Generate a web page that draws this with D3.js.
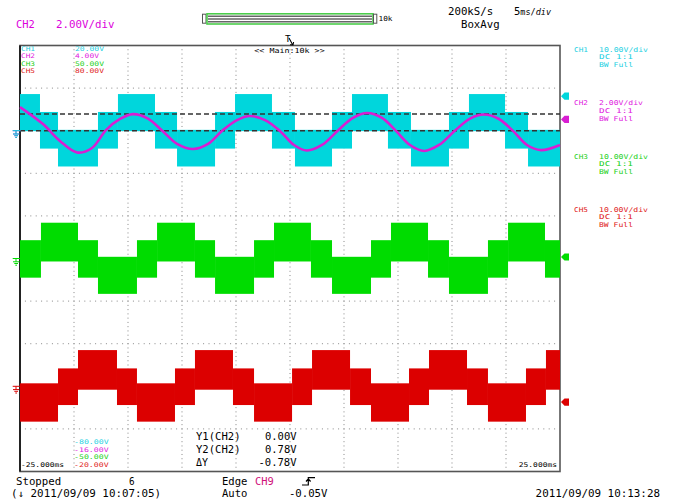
<!DOCTYPE html>
<html><head><meta charset="utf-8">
<script src="https://cdn.jsdelivr.net/npm/d3@7"></script>
<style>
body{margin:0;background:#fff;}
svg{display:block;}
text{font-family:"DejaVu Sans Mono","Liberation Mono",monospace;}
</style>
</head><body>
<svg id="c" width="673" height="504"></svg>
<script>
// ---------------- data ----------------
const channels = ["CH1", "CH2", "CH3", "CH5"];
const voltsPerDiv = [10, 2, 10, 10];
const topVolts = [20, 4, 50, 80];          // value at top of screen
const bottomVolts = [-80, -16, -50, -20];  // value at bottom of screen
const topLabels = ["20.00V", "4.00V", "50.00V", "80.00V"];
const bottomLabels = ["-80.00V", "-16.00V", "-50.00V", "-20.00V"];
const markerVolts = [8.1, 0.53, 0.35, -3.7];  // right-edge level markers
const timeRange = [-25, 25];                  // ms
const timeLabels = ["-25.000ms", "25.000ms"];

// CH1 (cyan) stepped PWM envelope: segment start (ms), upper/lower envelope (V)
const ch1Start = [-25.00,-23.15,-21.48,-17.78,-15.93,-12.50,-10.46,-6.94,-5.09,-1.67,0.46,3.89,5.74,9.07,11.20,14.72,16.57,19.91,22.04];
const ch1Top    = [8.6,4.4,0.2,4.4,8.6,4.4,0.2,4.4,8.6,4.4,0.2,4.4,8.6,4.4,0.2,4.4,8.6,4.4,0.2];
const ch1Bottom = [-0.1,-4.2,-8.4,-4.2,-0.1,-4.2,-8.4,-4.2,-0.1,-4.2,-8.4,-4.2,-0.1,-4.2,-8.4,-4.2,-0.1,-4.2,-8.4];

// CH3 (green)
const ch3Start = [-25.00,-23.06,-19.63,-17.78,-14.17,-12.31,-8.80,-6.94,-3.33,-1.48,1.94,3.89,7.50,9.35,12.78,14.72,18.33,20.19,23.61];
const ch3Top    = [4.3,8.4,4.3,0.4,4.3,8.4,4.3,0.4,4.3,8.4,4.3,0.4,4.3,8.4,4.3,0.4,4.3,8.4,4.3];
const ch3Bottom = [-4.5,-0.7,-4.5,-8.3,-4.5,-0.7,-4.5,-8.3,-4.5,-0.7,-4.5,-8.3,-4.5,-0.7,-4.5,-8.3,-4.5,-0.7,-4.5];

// CH5 (red)
const ch5Start = [-25.00,-21.48,-19.63,-16.02,-14.17,-10.65,-8.80,-5.28,-3.33,0.19,2.04,5.56,7.50,11.02,12.87,16.39,18.33,21.85,23.70];
const ch5Top    = [0.7,4.2,8.5,4.2,0.7,4.2,8.5,4.2,0.7,4.2,8.5,4.2,0.7,4.2,8.5,4.2,0.7,4.2,8.5];
const ch5Bottom = [-8.3,-4.4,-0.8,-4.4,-8.3,-4.4,-0.8,-4.4,-8.3,-4.4,-0.8,-4.4,-8.3,-4.4,-0.8,-4.4,-8.3,-4.4,-0.8];

// CH2 (magenta) sine-like signal: time (ms), volts
const ch2Time = [-25.00,-22.87,-21.30,-19.72,-18.33,-17.04,-15.74,-14.54,-13.15,-11.85,-10.46,-8.98,-7.59,-6.30,-4.91,-3.70,-2.31,-0.93,0.37,1.57,2.96,4.44,5.83,7.13,8.52,9.81,11.11,12.41,13.80,15.28,16.67,17.96,19.35,20.65,21.94,23.24,25.00];
const ch2Volt = [1.11,0.31,-0.48,-1.02,-0.81,0.03,0.55,0.78,0.57,0.01,-0.62,-0.86,-0.62,-0.01,0.50,0.69,0.50,-0.01,-0.67,-0.93,-0.67,0.01,0.60,0.83,0.60,-0.01,-0.67,-0.95,-0.67,0.01,0.57,0.76,0.55,-0.01,-0.67,-0.91,-0.67];

// cursors
const cursorNames = ["Y1(CH2)", "Y2(CH2)", "\u0394Y"];
const cursorValues = ["0.00V", "0.78V", "-0.78V"];
const cursorVolts = [0.00, 0.78];

// ---------------- layout ----------------
const W = 673, H = 504;
const L = 20, R = 560, T = 45.5, B = 471.5;
const svg = d3.select("#c");
const wave = ["#00d6dc", "#d81ed2", "#00dc00", "#dc0000"];
const txt = ["#22d0e2", "#e020e0", "#20d020", "#e02020"];

const xs = d3.scaleLinear().domain(timeRange).range([L, R]);
const ys = channels.map((c, i) => d3.scaleLinear().domain([bottomVolts[i], topVolts[i]]).range([B, T]));
const divY = d3.scaleLinear().domain([0, 10]).range([T, B]);
const divX = d3.scaleLinear().domain([0, 10]).range([L, R]);

svg.append("rect").attr("width", W).attr("height", H).attr("fill", "#fff");

// grid dots
const g = svg.append("g").attr("fill", "#888");
for (let k = 1; k < 10; k++) {
  const y = divY(k);
  for (let j = 1; j < 100; j++) g.append("rect").attr("x", divX(j / 10) - 0.5).attr("y", y - 0.5).attr("width", 1).attr("height", 1);
  const x = divX(k);
  for (let j = 1; j < 100; j++) g.append("rect").attr("x", x - 0.5).attr("y", divY(j / 10) - 0.5).attr("width", 1).attr("height", 1);
}

// frame
svg.append("rect").attr("x", L).attr("y", T).attr("width", R - L).attr("height", B - T)
  .attr("fill", "none").attr("stroke", "#555").attr("stroke-width", 1.6);
svg.append("line").attr("x1", L).attr("x2", L).attr("y1", T).attr("y2", B).attr("stroke", "#222").attr("stroke-width", 2);

// stepped envelopes
function drawBand(starts, tops, bots, sc, color) {
  const segs = starts.map((s, i) => ({s, e: i < starts.length - 1 ? starts[i + 1] : timeRange[1], t: tops[i], b: bots[i]}));
  svg.append("g").selectAll("rect").data(segs).join("rect")
    .attr("x", d => xs(d.s)).attr("width", d => xs(d.e) - xs(d.s))
    .attr("y", d => sc(d.t)).attr("height", d => sc(d.b) - sc(d.t))
    .attr("fill", color);
}
drawBand(ch1Start, ch1Top, ch1Bottom, ys[0], wave[0]);
drawBand(ch3Start, ch3Top, ch3Bottom, ys[2], wave[2]);
drawBand(ch5Start, ch5Top, ch5Bottom, ys[3], wave[3]);

// cursor dashed lines
cursorVolts.forEach(v => {
  svg.append("line").attr("x1", L).attr("x2", R).attr("y1", ys[1](v)).attr("y2", ys[1](v))
    .attr("stroke", "#333").attr("stroke-width", 1.5).attr("stroke-dasharray", "5,3");
});

// CH2 line
const line = d3.line().x(d => xs(d[0])).y(d => ys[1](d[1])).curve(d3.curveCatmullRom.alpha(0.5));
svg.append("path").datum(ch2Time.map((t, i) => [t, ch2Volt[i]]))
  .attr("d", line).attr("fill", "none").attr("stroke", wave[1]).attr("stroke-width", 2.6);

// right level markers
markerVolts.forEach((v, i) => {
  const y = ys[i](v);
  svg.append("path").attr("d", `M561,${y} L564.5,${y - 3.6} L569,${y - 3.6} L569,${y + 3.6} L564.5,${y + 3.6} Z`).attr("fill", wave[i]);
});

// ground symbols on left
[1, 0, 2, 3].forEach(i => {
  const y = ys[i](0);
  svg.append("path").attr("d", `M12.7,${y} H20.5 M16,${y} V${y + 3.3} M13,${y + 3.3} H19.3 M14.3,${y + 5} H18 M15.3,${y + 6.7} H17`)
    .attr("stroke", wave[i]).attr("stroke-width", 1).attr("fill", "none");
});

// ------------- text -------------
function T_(x, y, s, opt = {}) {
  const t = svg.append("text").attr("x", x).attr("y", y).text(s)
    .attr("font-size", opt.size || 10.5).attr("fill", opt.color || "#000")
    .attr("text-anchor", opt.anchor || "start");
  const cw = opt.cw || 6.6;
  t.attr("textLength", cw * s.length - 1).attr("lengthAdjust", "spacingAndGlyphs");
  return t;
}
T_(16, 28, "CH2", {color: "#dc00dc"});
T_(56, 28, "2.00V/div", {color: "#dc00dc"});
T_(448, 15, "200kS/s");
const ms = svg.append("text").attr("x", 514).attr("y", 15).attr("font-size", 10.5).text("5");
ms.append("tspan").attr("font-size", 8.5).text("ms/");
ms.append("tspan").attr("font-size", 8.5).attr("font-style", "italic").text("div");
T_(461, 28, "BoxAvg");

// zoom bar
svg.append("rect").attr("x", 202.5).attr("y", 14.2).attr("width", 3.5).attr("height", 9).attr("fill", "none").attr("stroke", "#555").attr("stroke-width", 1);
svg.append("rect").attr("x", 207).attr("y", 13.8).attr("width", 166).attr("height", 10.2).attr("fill", "#fff").attr("stroke", "#4ccc4c").attr("stroke-width", 1.6);
[16.3, 19, 21.7].forEach(y => svg.append("line").attr("x1", 208).attr("x2", 372).attr("y1", y).attr("y2", y).attr("stroke", "#666").attr("stroke-width", 1.4));
svg.append("rect").attr("x", 373.5).attr("y", 14.2).attr("width", 3.3).attr("height", 9).attr("fill", "none").attr("stroke", "#555").attr("stroke-width", 1);
T_(378.5, 20.5, "10k", {size: 7, cw: 5});

// trigger position marker
svg.append("text").attr("x", 285).attr("y", 42).attr("font-size", 9.5).text("T");
svg.append("path").attr("d", "M289,38 L292.5,44.5 M290,44.8 L293,45 L293.6,42").attr("stroke", "#000").attr("stroke-width", 1.1).attr("fill", "none");
T_(289.5, 53, "<< Main:10k >>", {size: 7, cw: 5.1, anchor: "middle"});

// top-left channel scale list
const listY = [50.8, 58.2, 65.6, 73];
const botY = [444.3, 451.7, 459.1, 466.5];
channels.forEach((c, i) => {
  T_(21, listY[i], c, {size: 6.3, cw: 5, color: txt[i]});
  T_(75, listY[i], topLabels[i], {size: 6.3, cw: 5, color: txt[i]});
  T_(74, botY[i], bottomLabels[i], {size: 6.3, cw: 5.1, color: txt[i]});
});

// right info blocks
const infoY = [51.5, 105, 158.5, 211.5];
channels.forEach((c, i) => {
  T_(574, infoY[i], c, {size: 6.6, cw: 5, color: txt[i]});
  T_(599, infoY[i], (voltsPerDiv[i]).toFixed(2) + "V/div", {size: 6.6, cw: 5, color: txt[i]});
  T_(599, infoY[i] + 7.8, "DC  1:1", {size: 6.6, cw: 5, color: txt[i]});
  T_(599, infoY[i] + 15.6, "BW Full", {size: 6.6, cw: 5, color: txt[i]});
});

// time labels
T_(21, 466.5, timeLabels[0], {size: 6.5, cw: 4.9});
T_(557, 466.5, timeLabels[1], {size: 6.5, cw: 4.9, anchor: "end"});

// cursor readout
cursorNames.forEach((n, i) => {
  const y = [440, 452.5, 465.5][i];
  T_(196, y, n, {size: 10, cw: 6.5});
  T_(296.5, y, cursorValues[i], {size: 10, cw: 6.5, anchor: "end"});
});

// status line
T_(16, 484.5, "Stopped", {size: 10});
T_(129, 484.5, "6", {size: 10});
T_(11, 496.5, "(\u2193 2011/09/09 10:07:05)", {size: 10, cw: 6.57});
T_(222, 484.5, "Edge", {size: 10});
T_(255, 484.5, "CH9", {size: 10, color: "#d0107a"});
svg.append("path").attr("d", "M302,485 H308.3 V477.7 H315 M306,481.5 L308.3,479 L310.6,481.5").attr("stroke", "#000").attr("stroke-width", 1.2).attr("fill", "none");
T_(222, 496.5, "Auto", {size: 10});
T_(327.5, 496.5, "-0.05V", {size: 10, anchor: "end"});
T_(660, 496.5, "2011/09/09 10:13:28", {size: 10, anchor: "end"});
</script>
</body></html>
